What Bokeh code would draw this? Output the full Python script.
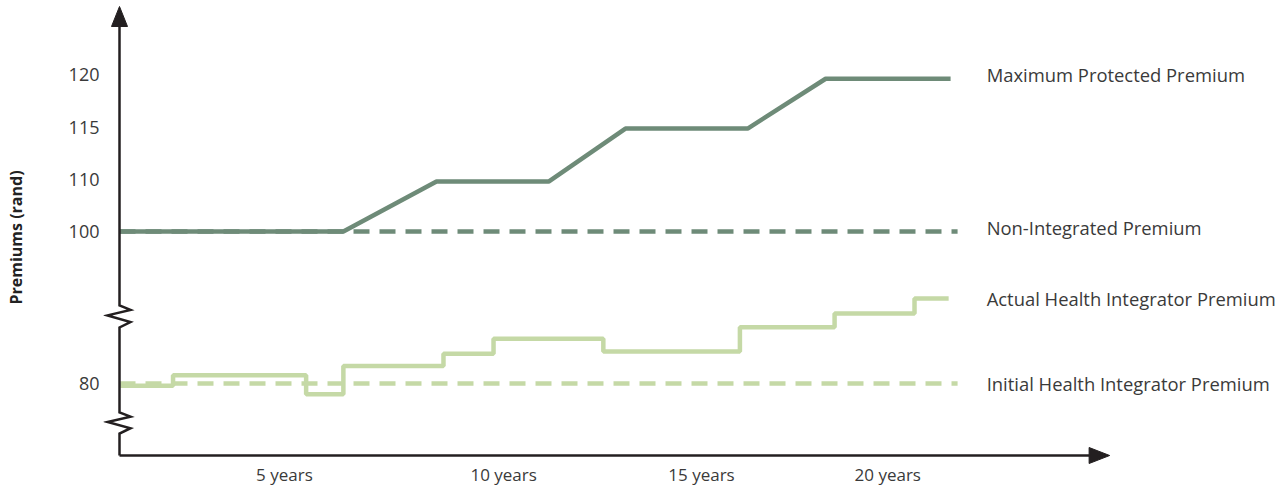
import numpy as np
from bokeh.plotting import figure
from bokeh.models import Range1d, FixedTicker
from bokeh.core.properties import value
from bokeh.embed import file_html
from bokeh.resources import INLINE

# ---------------- data ----------------
mpp_years = [0.0, 5.77, 8.17, 11.06, 13.04, 16.19, 18.20, 21.42]
mpp_values = [100, 100, 109.6, 109.6, 114.9, 114.9, 119.6, 119.6]

nip_years = [0.0, 21.6]
nip_values = [100, 100]

ahip_years = [0.0, 1.38, 4.81, 5.77, 8.35, 9.64, 12.47, 15.99, 18.43, 20.49, 21.37]
ahip_values = [79.7, 81.1, 78.6, 82.3, 83.9, 85.9, 84.2, 87.4, 89.2, 91.2, 91.2]

ihip_years = [0.0, 21.6]
ihip_values = [80, 80]

series_names = ["Maximum Protected Premium", "Non-Integrated Premium",
                "Actual Health Integrator Premium", "Initial Health Integrator Premium"]

y_tick_values = [80, 100, 110, 115, 120]
y_tick_labels = ["80", "100", "110", "115", "120"]
x_tick_years = [4.25, 9.9, 15.0, 19.8]
x_tick_labels = ["5 years", "10 years", "15 years", "20 years"]
y_title = "Premiums (rand)"

# ---------------- layout / scale ----------------
DARK = "#6e8b78"
LIGHT = "#c5d9a6"
AXIS = "#231f20"
TEXT = "#3a3a3a"
FONT = "Open Sans"

W, H = 1287, 490
LEFT, BOTTOM, TOP = 103, 16, 0
AXIS_Y_PX = 455                    # pixel row of the x axis line
PX_PER_YEAR = 38.8
AXIS_PX = 16                       # axis line offset from frame left (px)
XPX = 1.0 / PX_PER_YEAR            # years per pixel

# broken (piecewise) y scale: rand value -> display position (px above x axis)
SCALE_VALUES = [70] + y_tick_values
SCALE_POS = [-4, 72, 224, 276, 328, 381]
Y_TICK_POS = SCALE_POS[1:]


def ys(v):
    return list(np.interp(v, SCALE_VALUES, SCALE_POS))


x0 = -AXIS_PX * XPX
x1 = x0 + (W - LEFT) * XPX
y1 = AXIS_Y_PX - TOP
y0 = y1 - (H - BOTTOM - TOP)

p = figure(width=W, height=H, output_backend="svg", toolbar_location=None,
           x_range=Range1d(x0, x1), y_range=Range1d(y0, y1),
           min_border_left=LEFT, min_border_right=0, min_border_top=TOP,
           min_border_bottom=BOTTOM)
p.outline_line_color = None
p.grid.visible = False
p.background_fill_color = "white"

# axes: labels only
p.yaxis.ticker = FixedTicker(ticks=Y_TICK_POS)
p.yaxis.major_label_overrides = {k: lab for k, lab in zip(Y_TICK_POS, y_tick_labels)}
p.xaxis.ticker = FixedTicker(ticks=x_tick_years)
p.xaxis.major_label_overrides = {k: lab for k, lab in zip(x_tick_years, x_tick_labels)}
for ax in (p.xaxis, p.yaxis):
    ax.axis_line_color = None
    ax.major_tick_line_color = None
    ax.minor_tick_line_color = None
    ax.major_tick_out = 0
    ax.major_tick_in = 0
    ax.minor_tick_out = 0
    ax.major_label_text_font = FONT
    ax.major_label_text_color = TEXT
p.yaxis.major_label_text_font_size = "18px"
p.xaxis.major_label_text_font_size = "17px"
p.yaxis.major_label_standoff = 4
p.xaxis.major_label_standoff = -12
p.yaxis.axis_label = y_title
p.yaxis.axis_label_text_font = FONT
p.yaxis.axis_label_text_font_size = "16px"
p.yaxis.axis_label_text_font_style = "bold"
p.yaxis.axis_label_text_color = "#222222"
p.yaxis.axis_label_standoff = 39

# ---------------- series ----------------
p.line(nip_years, ys(nip_values), line_color=DARK, line_width=4.5, line_dash="16 10")
p.line(ihip_years, ys(ihip_values), line_color=LIGHT, line_width=4.5, line_dash="16 10")
p.line(mpp_years, ys(mpp_values), line_color=DARK, line_width=4.5)
p.step(ahip_years, ys(ahip_values), mode="after", line_color=LIGHT, line_width=4.5)

# series labels at the end of each line
label_x = 22.35
label_dy = [4, 4, 0, 0]              # px nudges (up)
last_vals = [mpp_values[-1], nip_values[-1], ahip_values[-1], ihip_values[-1]]
label_y = [yy + d for yy, d in zip(ys(last_vals), label_dy)]
p.text([label_x] * 4, label_y, text=series_names, text_font=value(FONT),
       text_font_size="18.4px", text_color=TEXT, text_baseline="middle", text_align="left")

# ---------------- hand-drawn axes with breaks and arrows ----------------
def zigzag(y_lo, y_hi):
    h = y_hi - y_lo
    return ([0, 11 * XPX, -12 * XPX, 11 * XPX, 0],
            [y_lo, y_lo + 0.25 * h, y_lo + 0.55 * h, y_lo + 0.8 * h, y_hi])

BREAKS = [(22, 43), (128, 150)]
ax_x, ax_y = [0], [0]
for lo, hi in BREAKS:
    zx, zy = zigzag(lo, hi)
    ax_x += zx
    ax_y += zy
ax_x += [0]
ax_y += [430]
p.line(ax_x, ax_y, line_color=AXIS, line_width=2.5, line_join="miter")
p.patch([0, -8 * XPX, 8 * XPX], [449, 429, 429], color=AXIS)

p.line([0, 25.0], [0, 0], line_color=AXIS, line_width=2.5)
p.patch([25.52, 24.99, 24.99], [0, 8, -8], color=AXIS)

open("out.html", "w").write(file_html(p, INLINE))
